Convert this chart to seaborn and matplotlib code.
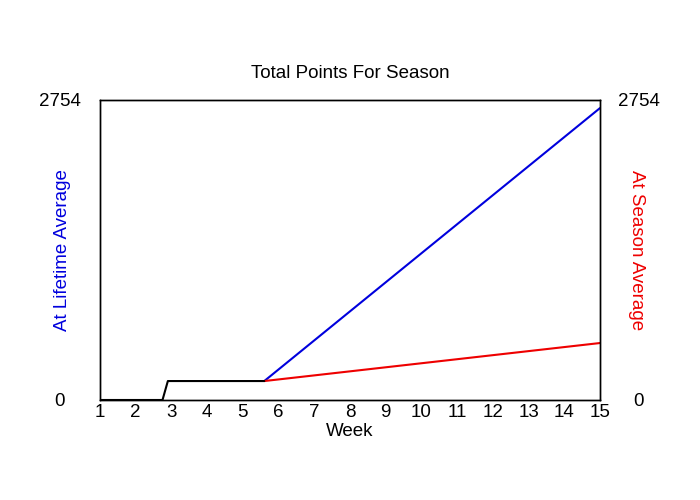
import pandas as pd
import matplotlib
matplotlib.use('Agg')
import matplotlib.pyplot as plt
import seaborn as sns

# valores
semanas_real = [1, 2.75, 2.9, 5.6]
pontos_real = [0, 0, 174, 174]
semanas_proj = [5.6, 15]
pontos_vida = [174, 2680]
pontos_temporada = [174, 523]
y_max = 2754
x_ticks = list(range(1, 16))

sns.set_style('white')
plt.rcParams['font.family'] = ['Liberation Sans', 'DejaVu Sans']
plt.rcParams['text.color'] = 'black'
plt.rcParams['xtick.color'] = 'black'
plt.rcParams['ytick.color'] = 'black'
plt.rcParams['axes.labelcolor'] = 'black'

fig = plt.figure(figsize=(7, 5), dpi=100)
ax = fig.add_axes([100 / 700, 0.2, 500 / 700, 0.6])

df_vida = pd.DataFrame({'Week': semanas_proj, 'Pts': pontos_vida})
df_temp = pd.DataFrame({'Week': semanas_proj, 'Pts': pontos_temporada})
df_real = pd.DataFrame({'Week': semanas_real, 'Pts': pontos_real})

sns.lineplot(data=df_vida, x='Week', y='Pts', color='#0000dd', lw=1.5, ax=ax)
sns.lineplot(data=df_temp, x='Week', y='Pts', color='#ee0000', lw=1.5, ax=ax)
sns.lineplot(data=df_real, x='Week', y='Pts', color='black', lw=1.5, ax=ax)

fs = 13.5
ax.set_xlim(1, 15)
ax.set_ylim(0, y_max)
ax.set_xticks(x_ticks)
ax.set_xticklabels([str(t) for t in x_ticks], fontsize=fs)
ax.set_yticks([0, y_max])
ax.set_yticklabels(['0', str(y_max)], fontsize=fs, ha='center')
ax.tick_params(axis='y', length=0, pad=29)
ax.tick_params(axis='x', length=0, pad=3)
for s in ax.spines.values():
    s.set_color('black')
    s.set_linewidth(1)

ax.set_title('Total Points For Season', fontsize=fs, pad=16)
ax.set_xlabel('Week', fontsize=fs, labelpad=1)
ax.set_ylabel('At Lifetime Average', color='#0000dd', fontsize=fs)
ax.yaxis.set_label_coords(-29 / 500, 0.5)

ax2 = ax.twinx()
ax2.set_ylim(0, y_max)
ax2.set_yticks([0, y_max])
ax2.set_yticklabels(['0', str(y_max)], fontsize=fs, ha='center')
ax2.tick_params(axis='y', length=0, pad=28)
ax2.set_ylabel('At Season Average', color='#ee0000', fontsize=fs, rotation=270)
ax2.yaxis.set_label_coords(1 + 45 / 500, 0.5)
for s in ax2.spines.values():
    s.set_color('black')
    s.set_linewidth(1)

fig.savefig('out.png', dpi=100)
